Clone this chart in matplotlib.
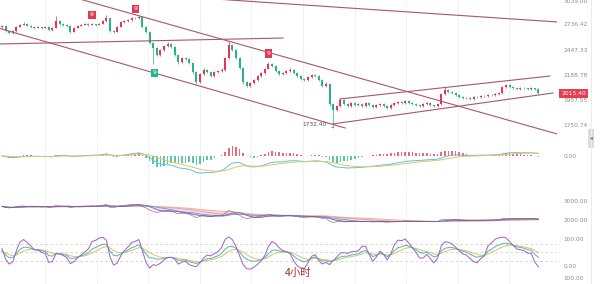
import numpy as np
import pandas as pd
import matplotlib
matplotlib.use("Agg")
import matplotlib.pyplot as plt
from matplotlib.ticker import NullLocator
from matplotlib.patches import Rectangle
from matplotlib.lines import Line2D

# 4h candles (open = previous close)
closes = [
    2716, 2656, 2633, 2656, 2704, 2728, 2740, 2716, 2704, 2692,
    2704, 2692, 2704, 2668, 2692, 2777, 2740, 2728, 2716, 2645,
    2692, 2716, 2728, 2740, 2728, 2740, 2728, 2740, 2777, 2814,
    2656, 2645, 2704, 2764, 2777, 2789, 2814, 2810, 2826, 2704,
    2645, 2519, 2464, 2389, 2442, 2486, 2508, 2475, 2389, 2316,
    2357, 2350, 2305, 2216, 2120, 2196, 2235, 2216, 2177, 2216,
    2225, 2235, 2357, 2497, 2442, 2357, 2255, 2120, 2082, 2110,
    2138, 2177, 2206, 2245, 2295, 2275, 2225, 2196, 2206, 2225,
    2235, 2206, 2177, 2148, 2138, 2167, 2186, 2177, 2138, 2082,
    2101, 1923, 1872, 1906, 1957, 1923, 1906, 1932, 1914, 1923,
    1906, 1932, 1914, 1898, 1914, 1923, 1906, 1889, 1914, 1932,
    1940, 1932, 1949, 1932, 1923, 1914, 1906, 1923, 1932, 1914,
    1906, 1923, 2010, 2046, 2028, 2019, 2001, 1984, 1975, 1978,
    1966, 1984, 1980, 1992, 1988, 2001, 1997, 2010, 2019, 2073,
    2091, 2073, 2064, 2055, 2064, 2060, 2055, 2064, 2055, 2015.4,
]
highs = [
    2728, 2722, 2662, 2664, 2712, 2738, 2760, 2748, 2722, 2710,
    2712, 2708, 2711, 2710, 2700, 2840, 2790, 2748, 2735, 2722,
    2700, 2724, 2738, 2750, 2748, 2752, 2746, 2750, 2790, 2850,
    2820, 2668, 2712, 2772, 2790, 2800, 2826, 2830, 2850, 2832,
    2712, 2652, 2528, 2475, 2455, 2497, 2530, 2515, 2482, 2395,
    2370, 2368, 2360, 2312, 2225, 2205, 2250, 2245, 2225, 2226,
    2236, 2250, 2370, 2540, 2510, 2450, 2365, 2262, 2130, 2120,
    2148, 2188, 2218, 2258, 2320, 2305, 2282, 2232, 2215, 2235,
    2250, 2242, 2212, 2184, 2155, 2178, 2198, 2195, 2184, 2145,
    2115, 2108, 1930, 1918, 1975, 1965, 1930, 1942, 1940, 1932,
    1928, 1940, 1938, 1920, 1922, 1930, 1928, 1912, 1920, 1940,
    1948, 1946, 1958, 1954, 1938, 1928, 1920, 1930, 1940, 1936,
    1918, 1930, 2020, 2075, 2055, 2036, 2025, 2006, 1990, 1986,
    1982, 1990, 1990, 1998, 1998, 2008, 2008, 2016, 2026, 2082,
    2105, 2098, 2080, 2070, 2072, 2070, 2066, 2070, 2068, 2060,
]
lows = [
    2690, 2648, 2622, 2627, 2650, 2698, 2722, 2710, 2696, 2684,
    2686, 2685, 2688, 2660, 2662, 2688, 2732, 2720, 2708, 2630,
    2640, 2686, 2710, 2722, 2720, 2722, 2720, 2722, 2734, 2770,
    2640, 2630, 2640, 2698, 2756, 2770, 2782, 2800, 2800, 2696,
    2636, 2505, 2300, 2375, 2380, 2436, 2478, 2465, 2375, 2300,
    2308, 2340, 2295, 2200, 2100, 2112, 2188, 2205, 2168, 2170,
    2208, 2218, 2228, 2350, 2430, 2345, 2240, 2105, 2070, 2075,
    2102, 2130, 2170, 2200, 2240, 2265, 2215, 2188, 2190, 2200,
    2218, 2198, 2168, 2140, 2128, 2132, 2160, 2168, 2128, 2070,
    2075, 1905, 1732.4, 1860, 1898, 1912, 1895, 1900, 1905, 1908,
    1896, 1900, 1906, 1888, 1892, 1908, 1898, 1878, 1884, 1908,
    1926, 1925, 1926, 1925, 1915, 1906, 1898, 1900, 1918, 1906,
    1896, 1900, 1918, 2002, 2020, 2010, 1994, 1976, 1966, 1968,
    1958, 1960, 1972, 1975, 1980, 1982, 1990, 1992, 2004, 2014,
    2066, 2066, 2056, 2048, 2050, 2052, 2048, 2050, 2048, 2008,
]
first_open = 2700

price_ticks = [3039.00, 2736.42, 2447.33, 2188.78, 1957.55, 1750.74]
last_price = 2015.40
low_mark = (92, 1732.40)
red_nines = [25, 37, 74]
green_nines = [42]
# drawn trend lines: (candle index, price) pairs
trend_lines = [
    ((60, 3058), (154.2, 2765)),
    ((19, 3096), (154.2, 1683.5)),
    ((-0.5, 2685), (95.3, 1729)),
    ((-0.6, 2508), (78.1, 2575)),
    ((93.9, 1966), (152.2, 2176)),
    ((91.9, 1760), (153.1, 2019)),
]

W, H = 600, 284
UP, DOWN = "#e8364f", "#27b38a"
TICK_C = "#8c8c8c"
fig = plt.figure(figsize=(W / 100, H / 100), dpi=100)


def panel(top, bottom, right=557):
    a = fig.add_axes([0, 1 - bottom / H, right / W, (bottom - top) / H])
    for s in a.spines.values():
        s.set_visible(False)
    a.set_xlim((0 - 2) / 3.6, (557 - 2) / 3.6)
    a.set_xticks((np.arange(45, 556, 51.6) - 2) / 3.6)
    a.tick_params(axis="x", length=0, labelbottom=False)
    a.grid(axis="x", color="#f0f0f0", lw=0.6)
    a.yaxis.tick_right()
    a.tick_params(axis="y", length=0, pad=4.5, labelsize=4.2, labelcolor=TICK_C)
    a.set_axisbelow(True)
    return a


x = np.arange(len(closes))
c = np.array(closes, float)
o = np.array([first_open] + closes[:-1], float)
hi = np.array(highs, float)
lo = np.array(lows, float)
col = [UP if cc >= oo else DOWN for oo, cc in zip(o, c)]

# main price panel
ax = panel(0, 140)
ax.set_yscale("log")
ax.set_ylim(1639.2, 3047.3)
ax.set_yticks(price_ticks)
ax.set_yticklabels([f"{v:.2f}" for v in price_ticks])
ax.yaxis.set_minor_locator(NullLocator())
ax.vlines(x, lo, hi, colors=col, lw=0.5)
ax.bar(x, np.maximum(np.abs(c - o), 3), bottom=np.minimum(o, c), width=0.55, color=col)
for (x0, y0), (x1, y1) in trend_lines:
    ax.plot([x0, x1], [y0, y1], color="#a9576b", lw=0.8)
for i in red_nines:
    ax.annotate("9", xy=(i, hi[i]), xytext=(0, 4), textcoords="offset points",
                ha="center", va="bottom", fontsize=4.5, color="white",
                bbox=dict(boxstyle="square,pad=0.25", fc="#e03a52", ec="none"))
for i in green_nines:
    ax.annotate("9", xy=(i, lo[i]), xytext=(1, -5), textcoords="offset points",
                ha="center", va="top", fontsize=4.5, color="white",
                bbox=dict(boxstyle="square,pad=0.25", fc="#27b38a", ec="none"))
ax.annotate(f"{low_mark[1]:.2f}", xy=low_mark, xytext=(-5, 2), textcoords="offset points",
            ha="right", va="center", fontsize=4.2, color="#555555",
            arrowprops=dict(arrowstyle="-", color="#555555", lw=0.5))
ax.annotate(f"{last_price:.2f}", xy=(1, last_price), xycoords=("axes fraction", "data"),
            xytext=(3.2, 0), textcoords="offset points", ha="left", va="center",
            fontsize=4.3, color="white", zorder=10, annotation_clip=False,
            bbox=dict(boxstyle="square,pad=0.35", fc="#e5404f", ec="none"))

cs = pd.Series(c)

# MACD panel
am = panel(140, 190)
dif = cs.ewm(span=12, adjust=False).mean() - cs.ewm(span=26, adjust=False).mean()
dea = dif.ewm(span=9, adjust=False).mean()
hist = 2 * (dif - dea)
unit = -dif.min() / 17
am.set_ylim(-34 * unit, 16 * unit)
am.set_yticks([0])
am.set_yticklabels(["0.00"])
am.bar(x, hist, width=0.4, color=[UP if v >= 0 else DOWN for v in hist], alpha=0.75)
am.plot(x, dif, color="#5ec4d6", lw=0.7)
am.plot(x, dea, color="#e6c36a", lw=0.7)

# moving average panel
aa = panel(190, 232)
aa.set_ylim(1368, 3579)
aa.set_yticks([2000, 3000])
aa.set_yticklabels(["2000.00", "3000.00"])
ma5 = cs.rolling(5, min_periods=1).mean()
ma10 = cs.rolling(10, min_periods=1).mean()
ma20 = cs.rolling(20, min_periods=1).mean()
ma30 = cs.rolling(30, min_periods=1).mean()
aa.fill_between(x, ma5, ma30, color="#f4d8ec", lw=0)
aa.plot(x, ma30, color="#f0b27a", lw=0.7)
aa.plot(x, ma20, color="#e49ab0", lw=0.6)
aa.plot(x, ma10, color="#56a8d0", lw=0.6)
aa.plot(x, ma5, color="#a05bc0", lw=0.7)
aa.plot(x, cs, color="#666666", lw=0.4)

# KDJ panel
ak = panel(232, 272)
ak.set_ylim(-22.2, 125.9)
ak.set_yticks([0, 100])
ak.set_yticklabels(["0.00", "100.00"])
for lvl in (20, 50, 80):
    ak.axhline(lvl, color="#cfcfcf", lw=0.6, ls=(0, (3, 3)))
llv = pd.Series(lo).rolling(9, min_periods=1).min()
hhv = pd.Series(hi).rolling(9, min_periods=1).max()
rsv = (cs - llv) / (hhv - llv) * 100
k = np.zeros(len(c))
d = np.zeros(len(c))
kp, dp = 50.0, 50.0
for i, r in enumerate(rsv):
    kp = 2 / 3 * kp + r / 3
    dp = 2 / 3 * dp + kp / 3
    k[i], d[i] = kp, dp
j = 3 * k - 2 * d
ak.plot(x, d, color="#d8c468", lw=0.7)
ak.plot(x, k, color="#4fb7b0", lw=0.7)
ak.plot(x, j, color="#a45cc0", lw=0.7)

# next panel (only its scale is visible)
ab = panel(272, 284)
ab.set_ylim(90, 110)
ab.set_yticks([100])
ab.set_yticklabels(["100.00"])

fig.text(298 / W, 1 - 273 / H, "4小时", ha="center", va="center", fontsize=7.5,
         color="#a52a2a", family=["Noto Sans CJK SC", "DejaVu Sans"])

# right scroll strip
fig.add_artist(Line2D([590.5 / W] * 2, [0, 1], color="#ececec", lw=0.8))
fig.add_artist(Rectangle((588 / W, 1 - 148 / H), 6 / W, 19 / H, transform=fig.transFigure,
                         fc="#dcdcdc", ec="none"))
fig.text(591 / W, 1 - 138 / H, "◂", ha="center", va="center", fontsize=4, color="#666666")

fig.savefig("out.png", dpi=100, facecolor="white")
